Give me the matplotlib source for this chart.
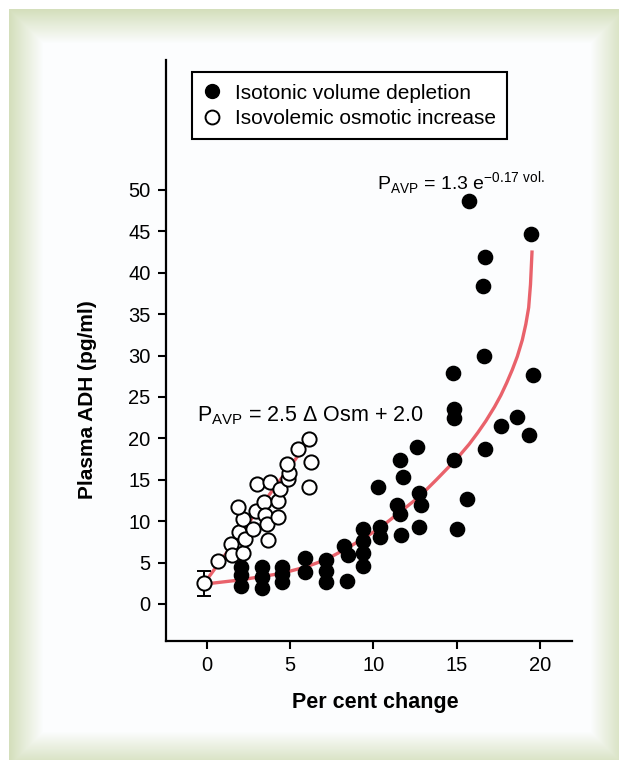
import numpy as np
import matplotlib
matplotlib.use("Agg")
import matplotlib.pyplot as plt
from matplotlib.lines import Line2D

plt.rcParams["font.family"] = ["Liberation Sans", "DejaVu Sans"]
plt.rcParams["mathtext.fontset"] = "custom"
plt.rcParams["mathtext.rm"] = "Liberation Sans"

# isovolemic osmotic increase (open circles)
open_x = [-0.15, 0.7, 1.48, 1.54, 2.18, 1.94, 2.28, 2.18, 1.9, 2.77, 2.97, 3.41, 3.47, 3.61,
          3.69, 3.03, 3.77, 4.29, 4.29, 4.37, 4.89, 4.93, 4.81, 5.5, 6.15, 6.23, 6.15]
open_y = [2.5, 5.15, 7.25, 5.9, 6.2, 8.65, 7.8, 10.3, 11.7, 9.0, 11.2, 12.3, 10.75, 9.66,
          7.7, 14.45, 14.77, 12.4, 10.5, 13.9, 15.05, 15.8, 16.95, 18.75, 19.9, 17.15, 14.1]
err_low = 1.0
err_high = 4.0

# isotonic volume depletion (filled circles)
filled_x = [2.08, 2.08, 2.08, 3.33, 3.33, 3.33, 4.53, 4.53, 4.53, 5.87, 5.87,
            7.17, 7.17, 7.17, 8.42, 8.26, 8.46, 9.4, 9.4, 9.4, 9.4,
            10.4, 10.4, 10.3, 11.42, 11.62, 11.68, 11.62, 11.76,
            12.6, 12.75, 12.85, 12.72, 14.85, 15.63, 15.03, 16.69, 17.68, 18.64, 19.36,
            15.72, 19.44, 16.71, 16.6, 16.65, 14.79, 19.6, 14.81, 14.81]
filled_y = [4.45, 3.45, 2.2, 4.5, 3.3, 1.9, 4.5, 3.6, 2.7, 5.6, 3.9,
            5.3, 4.0, 2.6, 2.8, 7.0, 5.9, 9.05, 7.65, 6.2, 4.6,
            9.25, 8.05, 14.1, 11.95, 10.87, 8.3, 17.35, 15.3,
            18.9, 13.45, 11.9, 9.25, 17.4, 12.7, 9.0, 18.7, 21.5, 22.6, 20.4,
            48.7, 44.7, 41.9, 38.4, 30.0, 27.9, 27.6, 23.6, 22.5]

# fitted lines
lin_x = [-0.15, 6.1]
lin_y = [2.5, 19.6]
exp_x = [-0.15, 2.0, 4.5, 6.0, 7.2, 8.3, 9.4, 10.4, 11.6, 12.78, 13.78, 14.55, 15.2, 15.75,
         16.27, 16.75, 17.27, 17.65, 18.0, 18.34, 18.64, 18.94, 19.15, 19.32, 19.43, 19.52]
exp_y = [2.4, 2.9, 3.7, 4.5, 5.4, 6.6, 7.9, 9.2, 11.1, 13.0, 15.0, 16.6, 18.0, 19.3,
         20.7, 22.1, 23.8, 25.2, 26.7, 28.3, 29.9, 31.9, 33.8, 35.8, 38.6, 42.5]

x_ticks = [0, 5, 10, 15, 20]
y_ticks = [0, 5, 10, 15, 20, 25, 30, 35, 40, 45, 50]

W, H = 619, 760
fig = plt.figure(figsize=(W / 100, H / 100), dpi=100)
fig.patch.set_facecolor("white")

# greenish bevelled frame
x0, y0, x1, y1, bw = 9, 9, 624, 765, 34
yy, xx = np.mgrid[0:H, 0:W]
d = np.minimum.reduce([xx - x0, yy - y0, x1 - xx, y1 - yy]).astype(float)
t = np.clip(d / bw, 0, 1)[..., None]
edge = np.array([212, 223, 188]) / 255.0
inner = np.array([252, 253, 254]) / 255.0
img = edge * (1 - t) + inner * t
inside = ((xx >= x0) & (yy >= y0))[..., None]
img = np.where(inside, img, 1.0)
bg = fig.add_axes([0, 0, 1, 1])
bg.imshow(img, aspect="auto", interpolation="nearest")
bg.axis("off")

ax = fig.add_axes([166 / W, 1 - 641 / H, (572 - 166) / W, (641 - 60) / H])
ax.patch.set_alpha(0)

red = "#e9626b"
ax.plot(exp_x, exp_y, color=red, lw=2.4, zorder=1, solid_joinstyle="round")
ax.plot(lin_x, lin_y, color=red, lw=2.4, zorder=1)
ax.errorbar([open_x[0]], [open_y[0]], yerr=[[open_y[0] - err_low], [err_high - open_y[0]]],
            fmt="none", ecolor="black", elinewidth=1.4, capsize=5, capthick=1.4, zorder=2)
ax.scatter(filled_x, filled_y, s=105, color="black", edgecolor="black", zorder=3)
ax.scatter(open_x, open_y, s=105, facecolor="white", edgecolor="black", linewidth=1.4, zorder=4)

ax.set_xlim(-2.44, 21.92)
ax.set_ylim(-4.47, 65.7)
ax.set_xticks(x_ticks)
ax.set_yticks(y_ticks)
for s in ["top", "right"]:
    ax.spines[s].set_visible(False)
for s in ["left", "bottom"]:
    ax.spines[s].set_linewidth(1.6)
ax.tick_params(direction="out", length=6, width=1.5, labelsize=14.5, pad=5)

ax.set_xlabel("Per cent change", fontsize=15.5, fontweight="bold")
ax.xaxis.set_label_coords(0.515, -0.087)
ax.set_ylabel("Plasma ADH (pg/ml)", fontsize=15, fontweight="bold")
ax.yaxis.set_label_coords(-0.17, 0.415)

ax.text(10.2, 50.8, r"P$_{\mathregular{AVP}}$ = 1.3 e$^{\mathregular{-0.17\ vol.}}$",
        fontsize=14, va="center", ha="left")
ax.text(-0.6, 22.8, r"P$_{\mathregular{AVP}}$ = 2.5 $\Delta$ Osm + 2.0",
        fontsize=15.5, va="center", ha="left")

handles = [
    Line2D([], [], ls="none", marker="o", ms=10, mfc="black", mec="black"),
    Line2D([], [], ls="none", marker="o", ms=10, mfc="white", mec="black", mew=1.4),
]
leg = ax.legend(handles, ["Isotonic volume depletion", "Isovolemic osmotic increase"],
                loc="upper left", bbox_to_anchor=(0.064, 0.979), fontsize=15,
                frameon=True, fancybox=False, edgecolor="black", framealpha=1,
                handlelength=0.8, handletextpad=0.7, borderpad=0.55, labelspacing=0.3,
                borderaxespad=0)
leg.get_frame().set_linewidth(1.5)

fig.savefig("out.png", dpi=100)
